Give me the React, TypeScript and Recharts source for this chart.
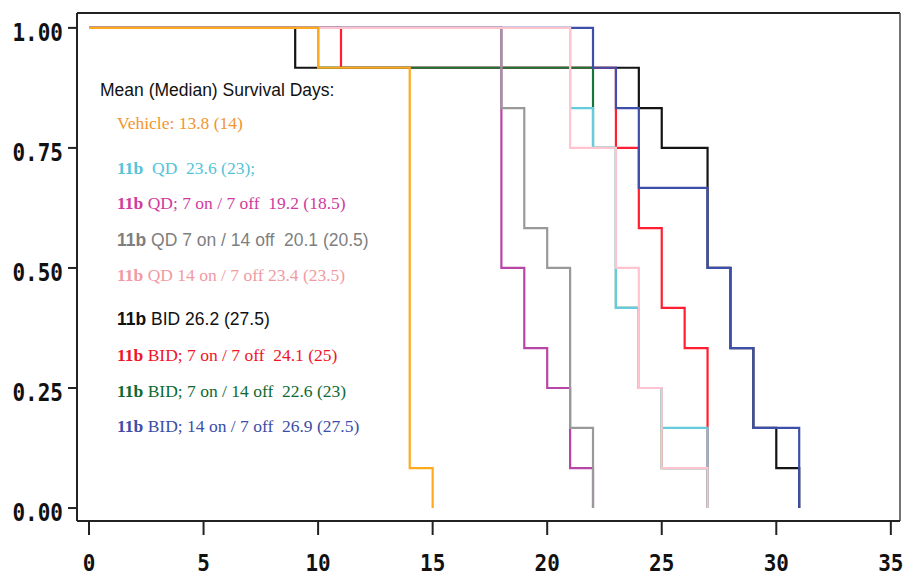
import React from 'react';
import { LineChart, Line, XAxis, YAxis, ReferenceLine } from 'recharts';

// Axis ticks
const xTicks = [0, 5, 10, 15, 20, 25, 30, 35];
const yTicks = [0, 0.25, 0.5, 0.75, 1];

// Kaplan–Meier step data (day of event, survival after event)
const vehicleDays = [0, 10, 14, 15];
const vehicleSurv = [1, 0.917, 0.083, 0];

const qdDays = [0, 21, 22, 23, 24, 25, 27];
const qdSurv = [1, 0.833, 0.75, 0.417, 0.25, 0.167, 0];

const qd7on7offDays = [0, 18, 19, 20, 21, 22];
const qd7on7offSurv = [1, 0.5, 0.333, 0.25, 0.083, 0];

const qd7on14offDays = [0, 18, 19, 20, 21, 22];
const qd7on14offSurv = [1, 0.833, 0.583, 0.5, 0.167, 0];

const qd14on7offDays = [0, 21, 23, 24, 25, 27];
const qd14on7offSurv = [1, 0.75, 0.5, 0.25, 0.083, 0];

const bidDays = [0, 9, 24, 25, 27, 28, 29, 30, 31];
const bidSurv = [1, 0.917, 0.833, 0.75, 0.5, 0.333, 0.167, 0.083, 0];

const bid7on7offDays = [0, 11, 23, 24, 25, 26, 27];
const bid7on7offSurv = [1, 0.917, 0.75, 0.583, 0.417, 0.333, 0];

const bid7on14offDays = [0, 10, 22, 23, 24, 25, 27];
const bid7on14offSurv = [1, 0.917, 0.75, 0.417, 0.25, 0.083, 0];

const bid14on7offDays = [0, 22, 23, 24, 27, 28, 29, 31];
const bid14on7offSurv = [1, 0.917, 0.833, 0.667, 0.5, 0.333, 0.167, 0];

// Legend texts
const legendTitle = 'Mean (Median) Survival Days:';
const legendBold = ['', '11b', '11b', '11b', '11b', '11b', '11b', '11b', '11b'];
const legendRest = [
  'Vehicle: 13.8 (14)',
  '  QD  23.6 (23);',
  ' QD; 7 on / 7 off  19.2 (18.5)',
  ' QD 7 on / 14 off  20.1 (20.5)',
  ' QD 14 on / 7 off 23.4 (23.5)',
  ' BID 26.2 (27.5)',
  ' BID; 7 on / 7 off  24.1 (25)',
  ' BID; 7 on / 14 off  22.6 (23)',
  ' BID; 14 on / 7 off  26.9 (27.5)',
];
const legendColors = ['#F2952F', '#55C3D8', '#D23A9E', '#7F7F7F', '#F29AA2', '#111111', '#F01428', '#0E6A32', '#3C4EA6'];
const legendSans = [false, false, false, true, false, true, false, false, false];
const legendBaselines = [129, 174, 209, 246, 281, 325, 361, 397, 432];

const pts = (days: number[], surv: number[]) => days.map((d, i) => ({ day: d, s: surv[i] }));

// draw order: bottom -> top
const series = [
  { name: 'bid', data: pts(bidDays, bidSurv), color: '#141414' },
  { name: 'bid7on7off', data: pts(bid7on7offDays, bid7on7offSurv), color: '#FF1E32' },
  { name: 'bid7on14off', data: pts(bid7on14offDays, bid7on14offSurv), color: '#17773A' },
  { name: 'qd', data: pts(qdDays, qdSurv), color: '#66CCDD' },
  { name: 'bid14on7off', data: pts(bid14on7offDays, bid14on7offSurv), color: '#3D4FA8' },
  { name: 'qd7on7off', data: pts(qd7on7offDays, qd7on7offSurv), color: '#B846A6' },
  { name: 'qd7on14off', data: pts(qd7on14offDays, qd7on14offSurv), color: '#999999' },
  { name: 'qd14on7off', data: pts(qd14on7offDays, qd14on7offSurv), color: '#FFC4CF' },
  { name: 'vehicle', data: pts(vehicleDays, vehicleSurv), color: '#FFAA1E' },
];

const X_MIN = -0.524;
const X_MAX = 35.4;
const Y_MIN = -0.027;
const Y_MAX = 1.031;

const tickFont = '"DejaVu Sans Mono", monospace';

const YTick = (p: any) => (
  <g transform={`translate(${p.x},${p.y + 4}) scale(1,1.18)`}>
    <text x={0} y={0} textAnchor="end" dominantBaseline="central" fontFamily={tickFont} fontWeight="bold" fontSize={21} fill="#111">
      {Number(p.payload.value).toFixed(2)}
    </text>
  </g>
);

const XTick = (p: any) => (
  <g transform={`translate(${p.x},${p.y + 28}) scale(1,1.12)`}>
    <text x={0} y={0} textAnchor="middle" dominantBaseline="central" fontFamily={tickFont} fontWeight="bold" fontSize={21} fill="#111">
      {String(p.payload.value)}
    </text>
  </g>
);

export default function App() {
  return (
    <div style={{ position: 'absolute', left: 0, top: 0, width: 904, height: 576, background: '#fff' }}>
      <LineChart width={904} height={576} margin={{ top: 13, right: 4, left: 0, bottom: 0 }}>
        <XAxis
          type="number"
          dataKey="day"
          domain={[X_MIN, X_MAX]}
          ticks={xTicks}
          allowDataOverflow
          height={55}
          stroke="#222"
          strokeWidth={2}
          tickSize={14}
          tickMargin={0}
          tick={<XTick />}
        />
        <YAxis
          type="number"
          domain={[Y_MIN, Y_MAX]}
          ticks={yTicks}
          allowDataOverflow
          width={77}
          stroke="#222"
          strokeWidth={2}
          tickSize={9}
          tickMargin={5}
          tick={<YTick />}
        />
        <ReferenceLine y={Y_MAX} stroke="#222" strokeWidth={2} />
        <ReferenceLine x={X_MAX} stroke="#444" strokeWidth={1.5} />
        {series.map((s) => (
          <Line
            key={s.name}
            data={s.data}
            dataKey="s"
            type="stepAfter"
            stroke={s.color}
            strokeWidth={2.2}
            dot={false}
            activeDot={false}
            isAnimationActive={false}
          />
        ))}
      </LineChart>
      <svg width={904} height={576} style={{ position: 'absolute', left: 0, top: 0, pointerEvents: 'none' }}>
        <text x={100} y={96} fontFamily='"Liberation Sans", Arial, sans-serif' fontSize={17.5} fill="#111">
          {legendTitle}
        </text>
        {legendRest.map((t, i) => (
          <text
            key={i}
            x={117}
            y={legendBaselines[i]}
            fontFamily={legendSans[i] ? '"Liberation Sans", Arial, sans-serif' : '"Liberation Serif", "Times New Roman", serif'}
            fontSize={17.5}
            fill={legendColors[i]}
            style={{ whiteSpace: 'pre' }}
          >
            {legendBold[i] ? <tspan fontWeight="bold">{legendBold[i]}</tspan> : null}
            <tspan>{t}</tspan>
          </text>
        ))}
      </svg>
    </div>
  );
}
